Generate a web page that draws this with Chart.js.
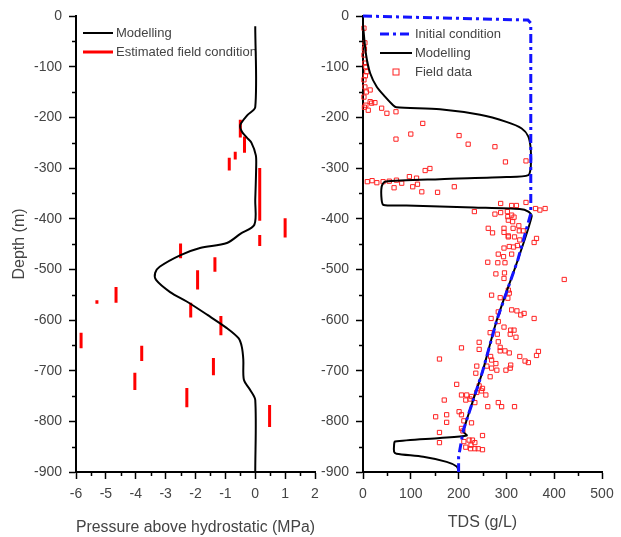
<!DOCTYPE html>
<html>
<head>
<meta charset="utf-8">
<script src="https://cdn.jsdelivr.net/npm/chart.js@4/dist/chart.umd.min.js"></script>
<style>
  body { margin: 0; background: #fff; }
  #wrap { position: relative; width: 621px; height: 537px; }
  canvas { position: absolute; left: 0; top: 0; }
</style>
</head>
<body>
<div id="wrap">
  <canvas id="pressChart" width="621" height="537"></canvas>
  <canvas id="tdsChart" width="621" height="537"></canvas>
</div>
<script>
// ---- left panel: pressure above hydrostatic (MPa) vs depth (m)
const pressTicks = [-6, -5, -4, -3, -2, -1, 0, 1, 2];
const depthTicks = [0, -100, -200, -300, -400, -500, -600, -700, -800, -900];

const modelPress = [0, 0, -0.27, -0.5, -0.45, -0.28, -0.13, 0.02, 0.03, 0, -0.03, -0.5, -0.95, -1.85, -2.5, -3.2, -3.35, -3.32, -2.85, -2.28, -1.6, -0.95, -0.56, -0.45, -0.4, -0.38, -0.17, 0, 0];
const modelPressDepth = [-20, -180, -196, -215, -228, -240, -250, -275, -300, -363, -412, -430, -448, -458, -472, -495, -507, -521, -545, -564, -590, -616, -636, -653, -678, -718, -738, -758, -900];

// estimated field condition: vertical bars (pressure, top depth, bottom depth)
const fieldPress = [-0.5, -0.36, -0.67, -0.87, 0.15, 1.0, 0.15, -2.5, -1.35, -1.93, -4.66, -5.3, -2.16, -1.15, -5.83, -3.8, -1.4, -4.03, -2.29, 0.48];
const fieldTop = [-205, -238, -268, -280, -300, -399, -432, -449, -476, -502, -535, -561, -566, -592, -625, -651, -675, -704, -734, -768];
const fieldBottom = [-240, -270, -283, -305, -404, -437, -454, -478, -505, -540, -566, -568, -595, -630, -656, -681, -709, -738, -772, -811];

// ---- right panel: TDS (g/L) vs depth (m)
const tdsTicks = [0, 100, 200, 300, 400, 500];

const initTDS = [0, 345, 351, 351, 324, 280, 250, 210, 200, 200];
const initDepth = [0, -8, -14, -390, -481, -600, -702, -817, -870, -900];

const modelTDS = [0, 6, 15, 29, 46, 63, 70, 161, 245, 300, 332, 346, 351, 351, 346, 300, 161, 46, 39, 39, 43, 91, 231, 328, 346, 353, 324, 280, 250, 210, 217, 161, 67, 65, 65, 70, 126, 175, 196, 201];
const modelDepth = [-18, -74, -113, -140, -159, -176, -180, -184, -195, -209, -222, -238, -264, -297, -314, -318, -322, -327, -337, -363, -373, -374, -378, -381, -386, -395, -481, -600, -702, -820, -828, -833, -840, -847, -860, -864, -870, -880, -889, -899];

const sampleTDS = [2, 4, 3, 2, 4, 6, 8, 5, 2, 4, 15, 7, 2, 15, 25, 18, 6, 11, 39, 50, 69, 3,
  125, 100, 69, 201, 220, 276, 298, 341, 140, 130, 97, 112,
  9, 19, 29, 42, 55, 70, 81, 65, 104, 114, 123, 156, 191,
  341, 288, 311, 321, 361, 370, 381, 233, 276, 288, 302, 303, 311, 316, 304, 313,
  262, 271, 295, 295, 304, 317, 314, 326, 327, 335, 363,
  304, 328, 358, 295, 306, 315, 323, 283, 294, 311, 261, 282, 297, 278, 296, 295, 421, 304, 306, 269, 287, 303, 283, 311, 322, 337, 330, 268, 358,
  283, 295, 309, 316, 308, 320, 266, 281, 243, 243, 283, 287, 206, 287, 297, 306, 328, 339, 346, 367, 363, 160, 259, 278, 267, 269, 269, 280, 299, 308, 309, 238, 236, 266,
  196, 243, 250, 206, 217, 227, 238, 248, 257, 170, 215, 224, 234, 261, 283, 290, 317, 152, 175, 175, 206, 211, 227, 160, 206, 209, 250, 160, 211, 222, 229, 234, 226, 215, 225, 234, 241, 250, 201];
const sampleDepth = [-24, -53, -65, -77, -93, -100, -110, -118, -126, -140, -146, -150, -160, -169, -171, -172, -176, -186, -182, -192, -189, -180,
  -212, -233, -243, -236, -253, -258, -288, -286, -301, -305, -317, -320,
  -327, -325, -329, -327, -326, -324, -330, -339, -337, -332, -347, -348, -337,
  -368, -370, -374, -374, -380, -383, -380, -386, -391, -388, -386, -396, -393, -397, -403, -406,
  -419, -428, -419, -427, -436, -436, -419, -414, -424, -424, -439,
  -434, -442, -447, -458, -455, -456, -453, -470, -475, -470, -486, -487, -487, -509, -507, -518, -520, -541, -547, -551, -556, -557, -584, -580, -582, -587, -590, -597, -597,
  -603, -614, -620, -620, -628, -634, -625, -628, -644, -658, -643, -654, -655, -661, -661, -665, -672, -681, -684, -662, -670, -677, -691, -686, -672, -679, -695, -699, -699, -695, -689, -691, -705, -712,
  -727, -730, -735, -748, -748, -751, -743, -740, -748, -758, -758, -756, -763, -771, -763, -771, -771, -791, -787, -802, -787, -799, -803, -822, -814, -819, -828, -842, -840, -837, -837, -842, -847, -851, -854, -854, -854, -856, -781];

const FONT = '"Liberation Sans", Arial, sans-serif';
const TEXT = '#444';

function pts(xs, ys) {
  return xs.map((x, i) => ({ x: x, y: ys[i] }));
}

function barSegments() {
  const out = [];
  fieldPress.forEach((p, i) => {
    out.push({ x: p, y: fieldTop[i] }, { x: p, y: fieldBottom[i] }, { x: null, y: null });
  });
  return out;
}

// short minor ticks between the labelled ones
const minorTicks = {
  id: 'minorTicks',
  afterDraw(chart, args, opts) {
    const { ctx, chartArea } = chart;
    const xs = chart.scales.x, ys = chart.scales.y;
    ctx.save();
    ctx.strokeStyle = '#000';
    ctx.lineWidth = 1.5;
    ctx.beginPath();
    for (let v = xs.min + opts.xStep / 2; v < xs.max; v += opts.xStep) {
      const px = Math.round(xs.getPixelForValue(v)) + 0.5;
      ctx.moveTo(px, chartArea.bottom);
      ctx.lineTo(px, chartArea.bottom + 4);
    }
    for (let v = ys.min + opts.yStep / 2; v < ys.max; v += opts.yStep) {
      const py = Math.round(ys.getPixelForValue(v)) + 0.5;
      ctx.moveTo(chartArea.left, py);
      ctx.lineTo(chartArea.left - 4, py);
    }
    ctx.stroke();
    ctx.restore();
  }
};

// legend drawn inside the plot, top left
const innerLegend = {
  id: 'innerLegend',
  beforeDatasetsDraw(chart, args, opts) {
    const { ctx, chartArea } = chart;
    ctx.save();
    ctx.font = '13px ' + FONT;
    ctx.textBaseline = 'middle';
    opts.items.forEach((idx, i) => {
      const ds = chart.data.datasets[idx];
      const y = chartArea.top + opts.top + i * opts.gap;
      const x0 = chartArea.left + opts.left;
      if (ds.showLine === false) {
        ctx.strokeStyle = ds.borderColor;
        ctx.lineWidth = 1;
        ctx.strokeRect(x0 + opts.len / 2 - 3, y - 3, 6, 6);
      } else {
        ctx.strokeStyle = ds.borderColor;
        ctx.lineWidth = ds.borderWidth;
        ctx.setLineDash(ds.borderDash || []);
        ctx.beginPath();
        ctx.moveTo(x0, y);
        ctx.lineTo(x0 + opts.len, y);
        ctx.stroke();
        ctx.setLineDash([]);
      }
      ctx.fillStyle = TEXT;
      ctx.fillText(ds.label, x0 + opts.len + 3, y);
    });
    ctx.restore();
  }
};

function axis(min, max, step, opts) {
  return Object.assign({
    type: 'linear',
    min: min,
    max: max,
    border: { display: true, color: '#000', width: 2 },
    grid: { display: true, drawOnChartArea: false, drawTicks: true, tickLength: 7, tickColor: '#000', tickWidth: 1.5 },
    ticks: { stepSize: step, padding: 7, color: TEXT, font: { family: FONT, size: 14 }, callback: v => String(v), maxRotation: 0, autoSkip: false }
  }, opts);
}

new Chart(document.getElementById('pressChart'), {
  type: 'line',
  data: {
    datasets: [
      {
        label: 'Modelling',
        data: pts(modelPress, modelPressDepth),
        borderColor: '#000',
        borderWidth: 2,
        pointRadius: 0,
        tension: 0.3,
        clip: false
      },
      {
        label: 'Estimated field condition',
        data: barSegments(),
        borderColor: '#f00',
        borderWidth: 3,
        borderCapStyle: 'butt',
        pointRadius: 0,
        spanGaps: false,
        clip: false
      }
    ]
  },
  options: {
    responsive: false,
    animation: false,
    layout: { padding: { left: 0, top: 16, right: 306, bottom: 0 } },
    plugins: {
      legend: { display: false },
      tooltip: { enabled: false },
      innerLegend: { items: [0, 1], left: 7, top: 17, gap: 19, len: 30 },
      minorTicks: { xStep: 1, yStep: 100 }
    },
    scales: {
      x: axis(pressTicks[0], pressTicks[pressTicks.length - 1], 1, {
        position: 'bottom',
        title: { display: true, text: 'Pressure above hydrostatic (MPa)', color: TEXT, font: { family: FONT, size: 16 }, padding: { top: 0, bottom: 0 } },
        afterFit: s => { s.height = 65; }
      }),
      y: axis(depthTicks[depthTicks.length - 1], depthTicks[0], 100, {
        position: 'left',
        title: { display: true, text: 'Depth (m)', color: TEXT, font: { family: FONT, size: 16 }, padding: { top: 10, bottom: 0 } },
        afterFit: s => { s.width = 76; }
      })
    }
  },
  plugins: [minorTicks, innerLegend]
});

new Chart(document.getElementById('tdsChart'), {
  type: 'line',
  data: {
    datasets: [
      {
        label: 'Initial condition',
        data: pts(initTDS, initDepth),
        borderColor: '#1414ff',
        borderWidth: 3,
        borderDash: [9, 4, 3, 4],
        pointRadius: 0,
        order: 0,
        clip: false
      },
      {
        label: 'Modelling',
        data: pts(modelTDS, modelDepth),
        borderColor: '#000',
        borderWidth: 2,
        pointRadius: 0,
        tension: 0.25,
        order: 1,
        clip: false
      },
      {
        label: 'Field data',
        data: pts(sampleTDS, sampleDepth),
        showLine: false,
        pointStyle: 'rect',
        pointRadius: 3,
        pointBorderWidth: 1,
        borderColor: '#f22',
        backgroundColor: 'rgba(255,255,255,0)',
        order: 2,
        clip: false
      }
    ]
  },
  options: {
    responsive: false,
    animation: false,
    layout: { padding: { left: 290, top: 16, right: 19, bottom: 0 } },
    plugins: {
      legend: { display: false },
      tooltip: { enabled: false },
      innerLegend: { items: [0, 1, 2], left: 17, top: 18, gap: 19, len: 32 },
      minorTicks: { xStep: 100, yStep: 100 }
    },
    scales: {
      x: axis(tdsTicks[0], tdsTicks[tdsTicks.length - 1], 100, {
        position: 'bottom',
        title: { display: true, text: 'TDS (g/L)', color: TEXT, font: { family: FONT, size: 16 }, padding: { top: 0, bottom: 5 } },
        afterFit: s => { s.height = 65; }
      }),
      y: axis(depthTicks[depthTicks.length - 1], depthTicks[0], 100, {
        position: 'left',
        afterFit: s => { s.width = 73; }
      })
    }
  },
  plugins: [minorTicks, innerLegend]
});
</script>
</body>
</html>
